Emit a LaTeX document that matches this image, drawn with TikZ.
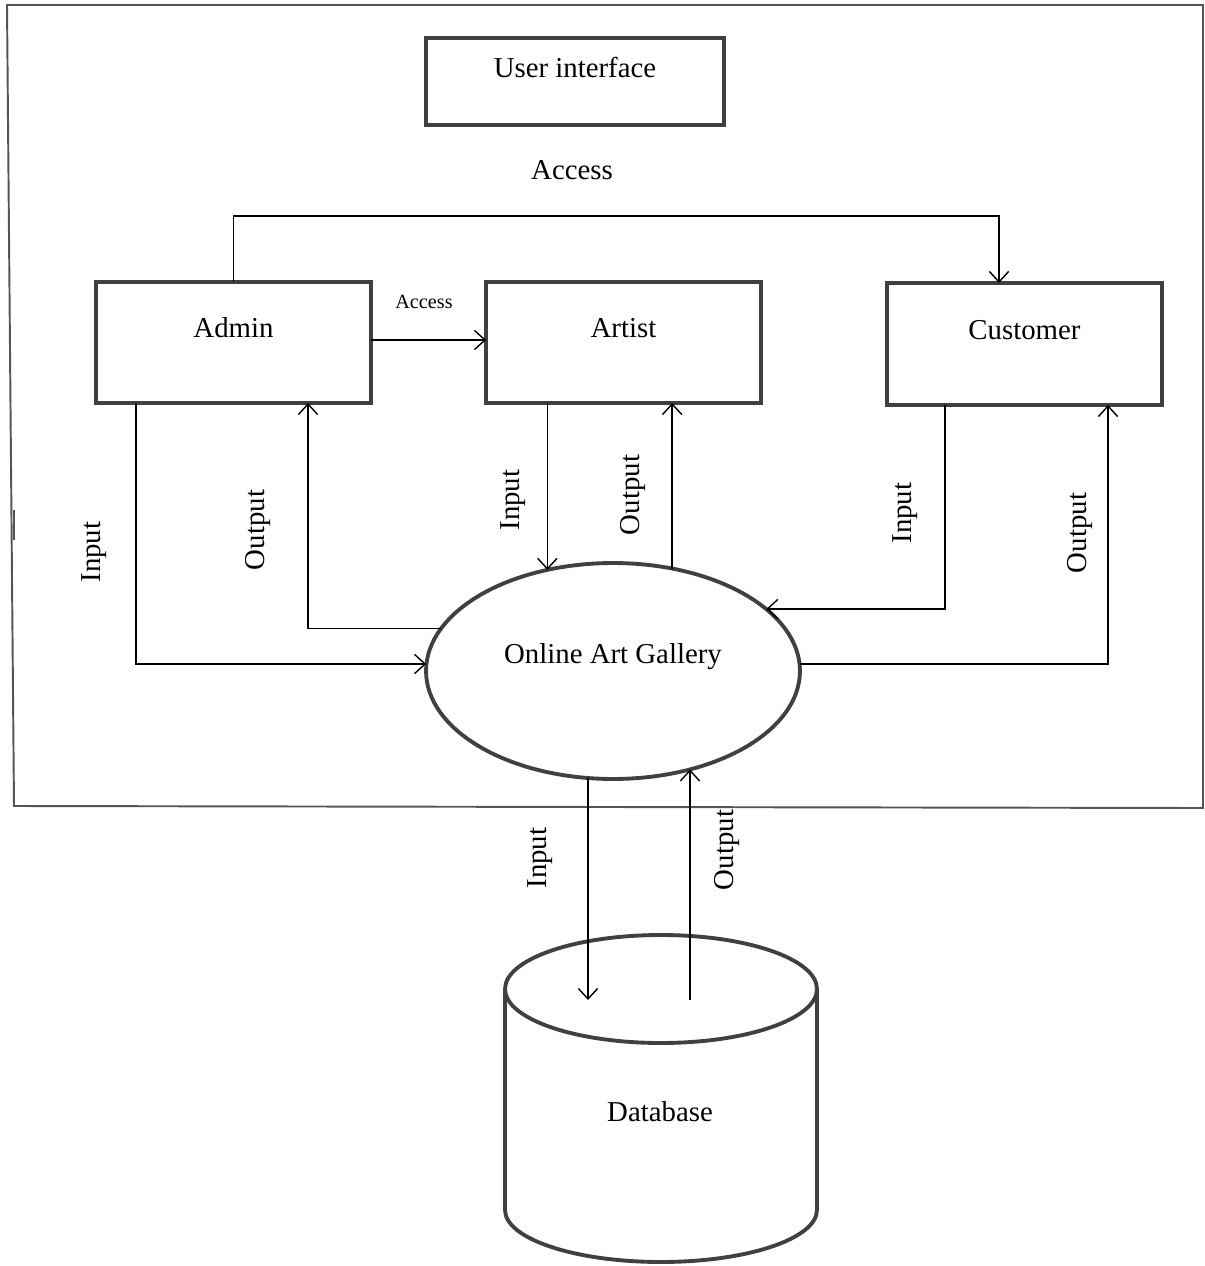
\documentclass[tikz,border=0pt]{standalone}
\usepackage{fontspec}
\setmainfont{Liberation Serif}
\usetikzlibrary{arrows.meta,shapes.geometric}
\definecolor{boxgray}{HTML}{404040}
\definecolor{framegray}{HTML}{555555}
\begin{document}
\begin{tikzpicture}[x=0.02cm,y=-0.02cm,
  lbl/.style={font=\fontsize{16.4}{19}\selectfont},
  rlbl/.style={lbl,rotate=90},
  smalllbl/.style={font=\fontsize{11.5}{13}\selectfont},
  boxnode/.style={draw=boxgray,line width=2.2pt,rectangle,inner sep=0pt,outer sep=0pt},
  conn/.style={line width=0.8pt,-{Straight Barb[length=6pt,width=11pt,line width=0.8pt]}},
  frame/.style={draw=framegray,line width=1.1pt}
]
\useasboundingbox (0,0) rectangle (1204,1266);
% outer frame
\draw[frame] (7,5) -- (1203,5) -- (1203,808) -- (14,806) -- cycle;
\draw[frame] (14,510) -- (14,540);

% boxes
\node[boxnode,minimum width=5.96cm,minimum height=1.74cm,
  label={[lbl,yshift=0.27cm]center:User interface}] (ui) at (575,81.5) {};
\node[lbl] (acc) at (572,170) {Access};
\node[boxnode,minimum width=5.5cm,minimum height=2.42cm,
  label={[lbl,yshift=0.29cm]center:Admin}] (admin) at (233.5,342.5) {};
\node[boxnode,minimum width=5.5cm,minimum height=2.42cm,
  label={[lbl,yshift=0.29cm]center:Artist}] (artist) at (623.5,342.5) {};
\node[boxnode,minimum width=5.5cm,minimum height=2.44cm,
  label={[lbl,yshift=0.28cm]center:Customer}] (cust) at (1024.5,344) {};
\node[ellipse,draw=boxgray,line width=2.2pt,inner sep=0pt,outer sep=0pt,
  minimum width=7.48cm,minimum height=4.32cm,
  label={[lbl,yshift=0.28cm]center:Online Art Gallery}] (gallery) at (613,671) {};

% database cylinder
\draw[boxgray,line width=2.2pt] (661,989) ellipse [x radius=3.12cm,y radius=1.08cm];
\draw[boxgray,line width=2.2pt] (505,989) -- (505,1210)
  arc[start angle=180,end angle=360,x radius=3.12cm,y radius=1.04cm] -- (817,989);
\node[lbl] (db) at (660,1112) {Database};
\coordinate (dbin) at (588,1000);
\coordinate (dbout) at (690,1000);

% connectors
\coordinate (ctop) at (999,216);
\draw[conn] (admin.north) |- (ctop) -- (ctop |- cust.north);
\draw[conn] (admin.east |- 0,340) -- (artist.west |- 0,340);
\node[smalllbl] (acc2) at (424,302) {Access};

\draw[conn] (admin.south -| 136,0) |- ([yshift=0.14cm]gallery.west);
\draw[conn] (gallery.166) -| (admin.south -| 308,0);
\draw[conn] (gallery.123 |- artist.south) -- (gallery.123);
\draw[conn] (gallery.60) -- (gallery.60 |- artist.south);
\draw[conn] (cust.south -| 945,0) |- (gallery.22);
\draw[conn] ([yshift=0.14cm]gallery.east) -| (cust.south -| 1108,0);
\draw[conn] (dbin |- gallery.257) -- (dbin);
\draw[conn] (dbout) -- (dbout |- gallery.308);

% rotated labels
\node[rlbl] (l1) at (94,552) {Input};
\node[rlbl] (l2) at (258,530) {Output};
\node[rlbl] (l3) at (513,500) {Input};
\node[rlbl] (l4) at (633,495) {Output};
\node[rlbl] (l5) at (905,513) {Input};
\node[rlbl] (l6) at (1080,533) {Output};
\node[rlbl] (l7) at (540,858) {Input};
\node[rlbl] (l8) at (727,850) {Output};
\end{tikzpicture}
\end{document}
